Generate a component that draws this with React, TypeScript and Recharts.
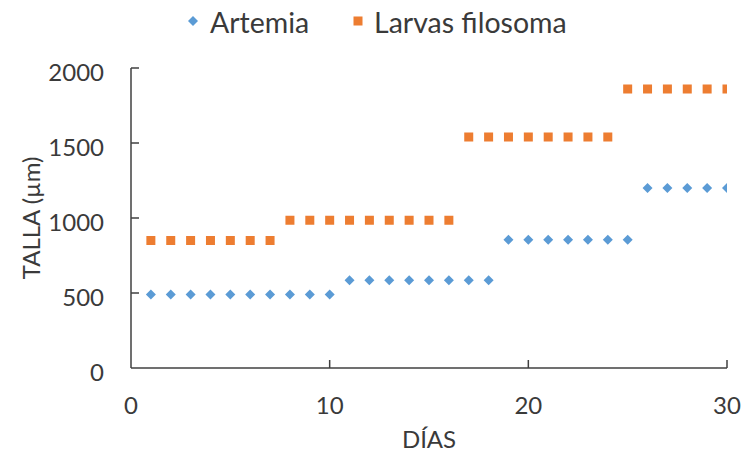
import React from 'react';
import { ScatterChart, Scatter, XAxis, YAxis, Legend, Label } from 'recharts';

const days = [1, 2, 3, 4, 5, 6, 7, 8, 9, 10, 11, 12, 13, 14, 15, 16, 17, 18, 19, 20, 21, 22, 23, 24, 25, 26, 27, 28, 29, 30];
const artemia = [490, 490, 490, 490, 490, 490, 490, 490, 490, 490, 585, 585, 585, 585, 585, 585, 585, 585, 855, 855, 855, 855, 855, 855, 855, 1200, 1200, 1200, 1200, 1200];
const larvas = [850, 850, 850, 850, 850, 850, 850, 985, 985, 985, 985, 985, 985, 985, 985, 985, 1540, 1540, 1540, 1540, 1540, 1540, 1540, 1540, 1860, 1860, 1860, 1860, 1860, 1860];
const xTicks = [0, 10, 20, 30];
const yTicks = [0, 500, 1000, 1500, 2000];
const seriesNames = ['Artemia', 'Larvas filosoma'];
const xTitle = 'DÍAS';
const yTitle = 'TALLA (µm)';

const BLUE = '#5B9BD5';
const ORANGE = '#ED7D31';
const AXIS = '#404040';
const TEXT = '#3a3a3a';
const FONT = 'Lato, "Open Sans", sans-serif';
const TICK_FS = 24;
const LEGEND_FS = 28.5;
const X_MARGIN = 36;
const Y_MARGIN = 27;
const TICK_LEN = 8;

const artemiaData = days.map((d, i) => ({ x: d, y: artemia[i] }));
const larvasData = days.map((d, i) => ({ x: d, y: larvas[i] }));

const Diamond = (p: any) => {
  const { cx, cy } = p;
  const r = 5;
  return <polygon points={`${cx},${cy - r} ${cx + r},${cy} ${cx},${cy + r} ${cx - r},${cy}`} fill={BLUE} />;
};
const Square = (p: any) => {
  const { cx, cy } = p;
  const s = 9;
  return <rect x={cx - s / 2} y={cy - s / 2} width={s} height={s} fill={ORANGE} />;
};

const XTick = (p: any) => {
  const { x, y, payload } = p;
  const axisY = y - X_MARGIN;
  return (
    <g>
      {payload.value !== 0 && (
        <line x1={x} x2={x} y1={axisY} y2={axisY - TICK_LEN} stroke={AXIS} strokeWidth={1.5} />
      )}
      <text x={x} y={y} textAnchor="middle" dominantBaseline="central" fontFamily={FONT} fontSize={TICK_FS} fill={TEXT}>
        {payload.value}
      </text>
    </g>
  );
};

const YTick = (p: any) => {
  const { x, y, payload } = p;
  const axisX = x + Y_MARGIN;
  return (
    <g>
      {payload.value !== 0 && (
        <line x1={axisX} x2={axisX + TICK_LEN} y1={y} y2={y} stroke={AXIS} strokeWidth={1.5} />
      )}
      <text x={x} y={y + 3} textAnchor="end" dominantBaseline="central" fontFamily={FONT} fontSize={TICK_FS} fill={TEXT}>
        {payload.value}
      </text>
    </g>
  );
};

const LegendContent = () => (
  <div style={{ width: 745, height: 40 }}>
    <svg width={745} height={40}>
      <polygon points="193,16 198,21 193,26 188,21" fill={BLUE} />
      <text x={210} y={22} dominantBaseline="central" fontFamily={FONT} fontSize={LEGEND_FS} fill={TEXT}>
        {seriesNames[0]}
      </text>
      <rect x={353.5} y={16.5} width={9} height={9} fill={ORANGE} />
      <text x={374} y={22} dominantBaseline="central" fontFamily={FONT} fontSize={LEGEND_FS} fill={TEXT}>
        {seriesNames[1]}
      </text>
    </svg>
  </div>
);

export default function App() {
  return (
    <div style={{ position: 'absolute', left: 0, top: 0, width: 745, height: 454, background: '#fff' }}>
      <ScatterChart width={745} height={454} margin={{ top: 28, right: 18, bottom: 0, left: 0 }}>
        <Legend
          verticalAlign="top"
          align="left"
          content={<LegendContent />}
          wrapperStyle={{ top: 0, left: 0, width: 745, height: 40 }}
        />
        <XAxis
          type="number"
          dataKey="x"
          domain={[0, 30]}
          ticks={xTicks}
          interval={0}
          allowDataOverflow
          height={86}
          tickSize={0}
          tickMargin={X_MARGIN}
          tick={<XTick />}
          axisLine={{ stroke: AXIS, strokeWidth: 1.5 }}
          tickLine={false}
        >
          <Label
            content={(lp: any) => {
              const vb = lp.viewBox;
              return (
                <text x={vb.x + vb.width / 2} y={vb.y + 70} textAnchor="middle" dominantBaseline="central" fontFamily={FONT} fontSize={TICK_FS} fill={TEXT}>
                  {xTitle}
                </text>
              );
            }}
          />
        </XAxis>
        <YAxis
          type="number"
          dataKey="y"
          domain={[0, 2000]}
          ticks={yTicks}
          interval={0}
          width={131}
          tickSize={0}
          tickMargin={Y_MARGIN}
          tick={<YTick />}
          axisLine={{ stroke: AXIS, strokeWidth: 1.5 }}
          tickLine={false}
        >
          <Label
            content={(lp: any) => {
              const vb = lp.viewBox;
              const cx = 30;
              const cy = vb.y + vb.height / 2;
              return (
                <text x={cx} y={cy} transform={`rotate(-90 ${cx} ${cy})`} textAnchor="middle" dominantBaseline="central" fontFamily={FONT} fontSize={TICK_FS} fill={TEXT}>
                  {yTitle}
                </text>
              );
            }}
          />
        </YAxis>
        <Scatter name={seriesNames[0]} data={artemiaData} shape={<Diamond />} isAnimationActive={false} />
        <Scatter name={seriesNames[1]} data={larvasData} shape={<Square />} isAnimationActive={false} />
      </ScatterChart>
    </div>
  );
}
